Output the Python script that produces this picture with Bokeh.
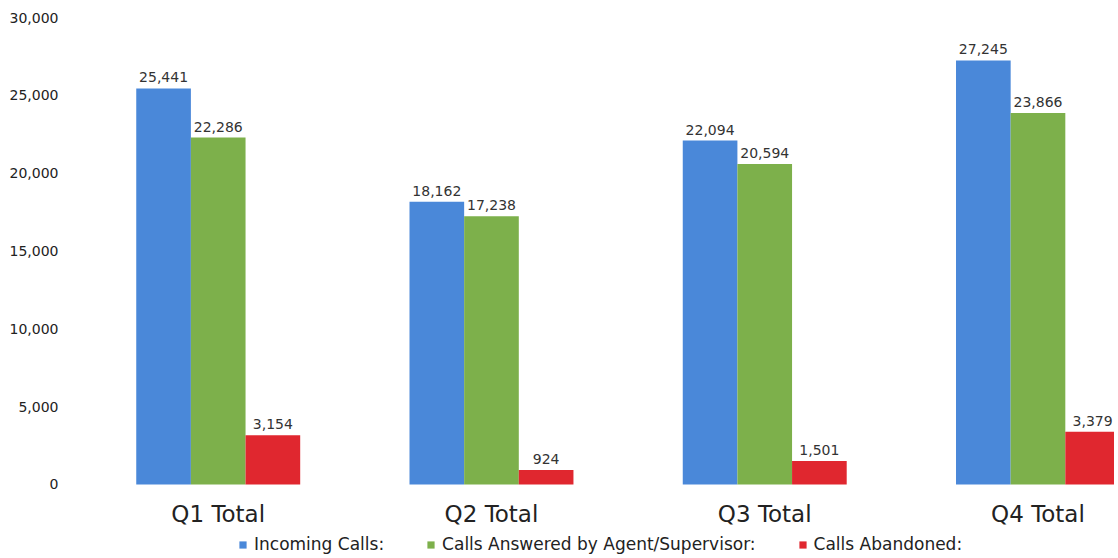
from bokeh.plotting import figure
from bokeh.models import ColumnDataSource, LabelSet, Legend, LegendItem, FixedTicker, NumeralTickFormatter, Range1d
from bokeh.core.properties import value
from bokeh.embed import file_html
from bokeh.resources import INLINE

quarters = ["Q1 Total", "Q2 Total", "Q3 Total", "Q4 Total"]
incoming = [25441, 18162, 22094, 27245]
answered = [22286, 17238, 20594, 23866]
abandoned = [3154, 924, 1501, 3379]
series_names = ["Incoming Calls:", "Calls Answered by Agent/Supervisor:", "Calls Abandoned:"]
colors = ["#4a88d9", "#7db04b", "#e0272f"]
y_ticks = [0, 5000, 10000, 15000, 20000, 25000, 30000]

FONT = "DejaVu Sans"

p = figure(width=1114, height=554, output_backend="svg", toolbar_location=None,
           x_range=Range1d(-0.504, 3.28), y_range=Range1d(-4500, 30000),
           min_border_left=80, min_border_right=0, min_border_top=17, min_border_bottom=0)
p.outline_line_color = None
p.xgrid.visible = False
p.ygrid.visible = False

xs = list(range(len(quarters)))
offsets = [-0.2, 0.0, 0.2]
items = []
for vals, off, col, name in zip([incoming, answered, abandoned], offsets, colors, series_names):
    src = ColumnDataSource(dict(x=[x + off for x in xs], top=vals,
                                lbl=[f"{v:,}" for v in vals]))
    r = p.vbar(x="x", top="top", width=0.2, source=src, fill_color=col, line_color=None)
    items.append(LegendItem(label=name, renderers=[r]))
    p.add_layout(LabelSet(x="x", y="top", text="lbl", source=src, text_align="center",
                          text_baseline="bottom", y_offset=6, text_font_size=value("14px"),
                          text_color=value("#333333"), text_font=value(FONT)))

p.xaxis.fixed_location = 0
p.xaxis.ticker = FixedTicker(ticks=xs)
p.xaxis.major_label_overrides = {i: q for i, q in enumerate(quarters)}
p.xaxis.major_label_text_font_size = "23px"
p.xaxis.major_label_text_font = FONT
p.xaxis.major_label_text_color = "#222222"
p.xaxis.axis_line_color = None
p.xaxis.major_tick_line_color = None
p.xaxis.minor_tick_line_color = None
p.xaxis.major_label_standoff = 11

p.yaxis.ticker = FixedTicker(ticks=y_ticks)
p.yaxis.formatter = NumeralTickFormatter(format="0,0")
p.yaxis.major_label_text_font_size = "14px"
p.yaxis.major_label_text_font = FONT
p.yaxis.major_label_text_color = "#222222"
p.yaxis.axis_line_color = None
p.yaxis.major_tick_line_color = None
p.yaxis.minor_tick_line_color = None
p.yaxis.major_label_standoff = 16

legend = Legend(items=items, orientation="horizontal", location=(158, 0),
                glyph_width=9, glyph_height=9, spacing=42, label_standoff=7,
                label_text_font_size="17px", label_text_font=FONT, label_text_color="#222222",
                border_line_color=None, background_fill_alpha=0, padding=0, margin=0)
p.add_layout(legend)

open("out.html", "w").write(file_html(p, INLINE))
